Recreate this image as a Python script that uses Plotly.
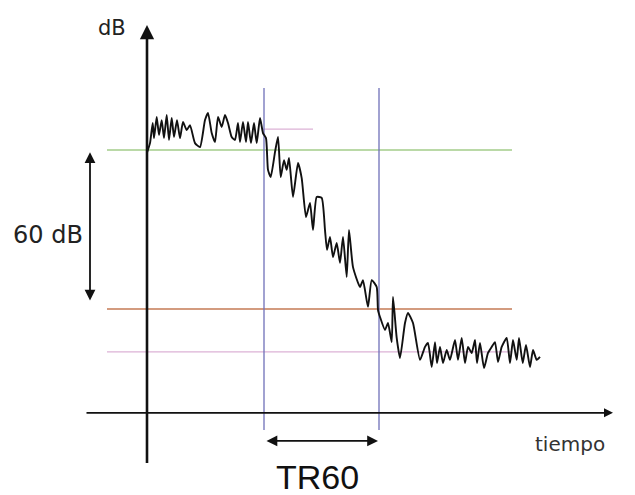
import plotly.graph_objects as go

# Time (ms) and level (dB, relative to the green reference line) of the decay signal
t_ms = [0, 30, 57, 70, 97, 120, 147, 170, 197, 220, 247, 270, 300, 330, 360, 397, 430, 480, 530,
        580, 610, 647, 680, 710, 747, 780, 810, 847, 880, 910, 930, 960, 990, 1010, 1040, 1070,
        1097, 1130, 1160, 1190, 1210, 1237, 1280, 1310, 1337, 1370, 1397, 1420, 1460, 1510, 1547,
        1590, 1630, 1660, 1697, 1747, 1780, 1800, 1830, 1860, 1897, 1930, 1960, 1997, 2020, 2060,
        2130, 2160, 2210, 2247, 2297, 2310, 2330, 2380, 2410, 2447, 2460, 2497, 2530, 2580, 2610,
        2660, 2730, 2780, 2810, 2847, 2880, 2900, 2930, 2960, 2997, 3030, 3080, 3110, 3147, 3180,
        3210, 3247, 3280, 3300, 3330, 3370, 3410, 3447, 3480, 3510, 3547, 3597, 3630, 3660, 3697,
        3720, 3757, 3790, 3830, 3860, 3897, 3930]
level_db = [-1.0, 2.6, 10.2, 4.5, 12.5, 5.7, 11.3, 4.5, 13.2, 3.8, 12.1, 4.9, 11.3, 4.5, 10.6, 7.5,
            9.4, 2.6, 1.1, 11.3, 14.0, 6.4, 3.0, 12.5, 8.7, 13.2, 10.2, 4.9, 3.8, 10.2, 3.0, 10.6,
            3.0, 10.6, 2.6, 10.2, 2.6, 12.1, 6.4, 4.5, -7.5, -10.2, -0.8, 4.9, -10.2, -3.8, -7.5,
            -3.0, -17.7, -4.9, -10.6, -25.3, -20.0, -30.2, -17.7, -18.1, -30.2, -37.7, -32.8,
            -40.4, -35.1, -42.6, -32.8, -47.9, -30.2, -44.2, -51.7, -49.1, -59.2, -49.1, -51.7,
            -60.4, -63.0, -67.9, -65.3, -72.5, -55.5, -70.9, -78.5, -65.3, -61.5, -65.3, -79.2,
            -74.3, -72.8, -81.9, -72.5, -80.4, -74.3, -80.4, -75.5, -79.2, -71.7, -79.2, -70.9,
            -80.4, -74.3, -76.6, -71.7, -80.4, -72.8, -82.3, -76.6, -74.3, -72.5, -80.0, -74.3,
            -70.9, -80.4, -71.7, -79.2, -70.9, -80.4, -73.6, -81.9, -75.5, -79.2, -78.1]

# Reference levels (dB)
ref_start_db = 0.0        # green line
ref_end_db = -60.0        # orange line (60 dB below)
noise_floor_db = -76.2    # pink lower line
steady_db = 7.9           # pink short line
# Decay start / end times (ms)
decay_start_ms = 1170
decay_end_ms = 2320
axis_db = -99.2           # level where the time axis is drawn

labels = {"y": "dB", "x": "tiempo", "span": "60 dB", "tr": "TR60"}

fig = go.Figure()
fig.add_trace(go.Scatter(x=t_ms, y=level_db, mode="lines",
                         line=dict(color="#111111", width=1.9, shape="spline", smoothing=0.5),
                         hoverinfo="skip", showlegend=False))

shapes = []
def hline(y, x0, x1, color, width=1.3):
    shapes.append(dict(type="line", xref="x", yref="y", x0=x0, x1=x1, y0=y, y1=y,
                       line=dict(color=color, width=width), layer="below"))

hline(ref_start_db, -400, 3650, "#a3cc8a")
hline(ref_end_db, -400, 3650, "#c47a55")
hline(noise_floor_db, -400, 3650, "#dcb2d6")
hline(steady_db, 1150, 1660, "#dcb2d6")
for tx in (decay_start_ms, decay_end_ms):
    shapes.append(dict(type="line", xref="x", yref="y", x0=tx, x1=tx, y0=-105.7, y1=23.4,
                       line=dict(color="#6f70b8", width=1.3), layer="below"))

annotations = []
def arrow(x_head, y_head, x_tail, y_tail, side="end", width=2.2, head=2, size=1.0):
    annotations.append(dict(x=x_head, y=y_head, ax=x_tail, ay=y_tail, xref="x", yref="y",
                            axref="x", ayref="y", text="", showarrow=True, arrowhead=head,
                            startarrowhead=head, arrowside=side, arrowsize=size,
                            startarrowsize=size, arrowwidth=width, arrowcolor="#111111",
                            standoff=0, startstandoff=0))

# y axis (up arrow)
arrow(0, 47.2, 0, -118.7, width=2.6, head=2, size=1.1)
# time axis (right arrow)
arrow(4660, axis_db, -620, axis_db, width=1.8, head=2, size=1.0)
# 60 dB span
arrow(-570, ref_start_db - 0.8, -570, ref_end_db + 2.6, side="end+start", width=1.8, head=2, size=1.2)
# TR60 span
arrow(decay_end_ms - 10, -109.8, decay_start_ms + 10, -109.8, side="end+start", width=1.8, head=2, size=1.2)

def text(x, y, s, size, family="DejaVu Sans", color="#222222"):
    annotations.append(dict(x=x, y=y, xref="x", yref="y", text=s, showarrow=False,
                            font=dict(family=family, size=size, color=color)))

text(-350, 46.0, labels["y"], 21)
text(-995, -32.0, labels["span"], 24)
text(4225, -111.0, labels["x"], 20, color="#333333")
text(1700, -123.5, labels["tr"], 34, family="Liberation Sans", color="#111111")

# The page body has an 8 px margin, so the figure is 8 px smaller and the ranges start 8 px in
fig.update_layout(width=627, height=487, margin=dict(l=0, r=0, t=0, b=0),
                  paper_bgcolor="white", plot_bgcolor="white",
                  xaxis=dict(range=[-1390, 4880], visible=False, fixedrange=True),
                  yaxis=dict(range=[-130.2, 53.6], visible=False, fixedrange=True),
                  shapes=shapes, annotations=annotations, showlegend=False)

fig.write_html("out.html")
